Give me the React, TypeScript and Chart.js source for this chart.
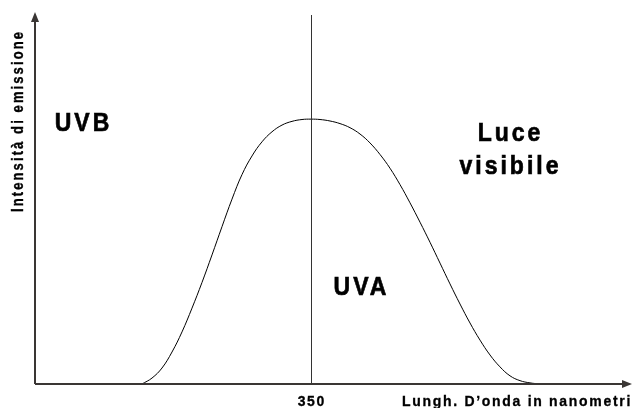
import React, { useEffect, useRef } from "react";
import { Chart, registerables } from "chart.js";

Chart.register(...registerables);

// Wavelength (schematic, nm) and emission intensity (0-100 scale)
const xNm = [
  265.5, 270.5, 275.5, 280.5, 285.5, 290.5, 295.5, 300.5, 305.5, 310.5, 315.5, 320.5, 325.5, 330.5, 335.5, 340.5, 345.5, 350,
  354.5, 359.5, 364.5, 369.5, 374.5, 379.5, 384.5, 389.5, 394.5, 399.5, 404.5, 409.5, 414.5, 419.5, 424.5, 429.5, 434.5,
  439.5, 444.5, 449.5, 454.5, 459.5, 464.5,
];
const intensity = [
  0, 1.6, 4.3, 8.6, 14.0, 20.4, 27.3, 34.7, 42.3, 49.7, 56.3, 61.3, 65.1, 67.8, 69.6, 70.6, 71.1, 71.2,
  71.1, 70.7, 70.0, 68.9, 67.2, 64.8, 61.7, 58.0, 53.6, 48.7, 43.5, 38.1, 32.5, 26.9, 21.5, 16.4, 11.8,
  7.8, 4.6, 2.2, 0.9, 0.3, 0,
];

const xTickValues = [350];
const xTickLabels = ["350"];
const xAxisTitle = "Lungh. D\u2019onda in nanometri";
const yAxisTitle = "Intensit\u00e0 di emissione";
const regionNames = ["UVB", "UVA", "Luce", "visibile"];
const regionX = [235.5, 374.5, 449, 449];
const regionY = [69.9, 25.8, 67.2, 58.3];

const FONT = '"Liberation Sans", Arial, sans-serif';

function drawText(
  ctx: CanvasRenderingContext2D,
  text: string,
  x: number,
  y: number,
  size: number,
  ls: number,
  stretch: number,
  align: CanvasTextAlign,
  rot = 0
) {
  ctx.save();
  ctx.translate(x, y);
  if (rot) ctx.rotate(rot);
  ctx.scale(1, stretch);
  ctx.font = `bold ${size}px ${FONT}`;
  (ctx as any).letterSpacing = `${ls}px`;
  ctx.textAlign = align;
  ctx.textBaseline = "middle";
  ctx.fillStyle = "#000";
  ctx.strokeStyle = "#000";
  ctx.lineWidth = size > 18 ? 0.6 : 0.3;
  let dx = 0;
  if (align === "center") dx = ls / 2;
  ctx.fillText(text, dx, 0);
  ctx.strokeText(text, dx, 0);
  ctx.restore();
}

const decor = {
  id: "decor",
  afterDraw(chart: any) {
    const ctx: CanvasRenderingContext2D = chart.ctx;
    const xs = chart.scales.x;
    const ys = chart.scales.y;
    const { left, right, top, bottom } = chart.chartArea;
    ctx.save();
    // vertical separator at 350
    ctx.strokeStyle = "#333";
    ctx.lineWidth = 1;
    const vx = Math.round(xs.getPixelForValue(350)) + 0.5;
    ctx.beginPath();
    ctx.moveTo(vx, top + 3);
    ctx.lineTo(vx, bottom);
    ctx.stroke();

    // axes
    ctx.strokeStyle = "#3a3634";
    ctx.fillStyle = "#3a3634";
    ctx.lineWidth = 2;
    ctx.beginPath();
    ctx.moveTo(left, bottom);
    ctx.lineTo(left, top + 6);
    ctx.moveTo(left, bottom);
    ctx.lineTo(right - 6, bottom);
    ctx.stroke();
    // arrow heads
    ctx.beginPath();
    ctx.moveTo(left, top);
    ctx.lineTo(left - 4, top + 10);
    ctx.lineTo(left + 4, top + 10);
    ctx.closePath();
    ctx.fill();
    ctx.beginPath();
    ctx.moveTo(right + 1, bottom);
    ctx.lineTo(right - 9, bottom - 4);
    ctx.lineTo(right - 9, bottom + 4);
    ctx.closePath();
    ctx.fill();

    // tick labels
    xTickValues.forEach((v, i) => {
      drawText(ctx, xTickLabels[i], xs.getPixelForValue(v), bottom + 18, 14, 1.5, 1.05, "center");
    });
    // axis titles
    drawText(ctx, xAxisTitle, 402, bottom + 18, 14, 1.7, 1.05, "left");
    drawText(ctx, yAxisTitle, 19, (top + bottom) / 2 - 76, 13, 2.1, 1.25, "center", -Math.PI / 2);

    // region labels
    regionNames.forEach((t, i) => {
      drawText(ctx, t, xs.getPixelForValue(regionX[i]), ys.getPixelForValue(regionY[i]), 23, 3, 1.15, "center");
    });
    ctx.restore();
  },
};

export default function App() {
  const ref = useRef<HTMLCanvasElement | null>(null);
  useEffect(() => {
    if (!ref.current) return;
    const chart = new Chart(ref.current, {
      type: "line",
      data: {
        datasets: [
          {
            data: xNm.map((x, i) => ({ x, y: intensity[i] })),
            borderColor: "#000",
            borderWidth: 1,
            pointRadius: 0,
            tension: 0.4,
            fill: false,
          },
        ],
      },
      options: {
        animation: false,
        responsive: true,
        maintainAspectRatio: false,
        layout: { padding: { left: 35, right: 1, top: 12, bottom: 24 } },
        plugins: { legend: { display: false }, tooltip: { enabled: false } },
        scales: {
          x: { type: "linear", min: 212, max: 510, display: false },
          y: { type: "linear", min: 0, max: 100, display: false },
        },
      },
      plugins: [decor],
    });
    return () => chart.destroy();
  }, []);
  return (
    <div style={{ position: "fixed", left: 0, top: 0, width: 632, height: 408, background: "#fff" }}>
      <canvas ref={ref} />
    </div>
  );
}
